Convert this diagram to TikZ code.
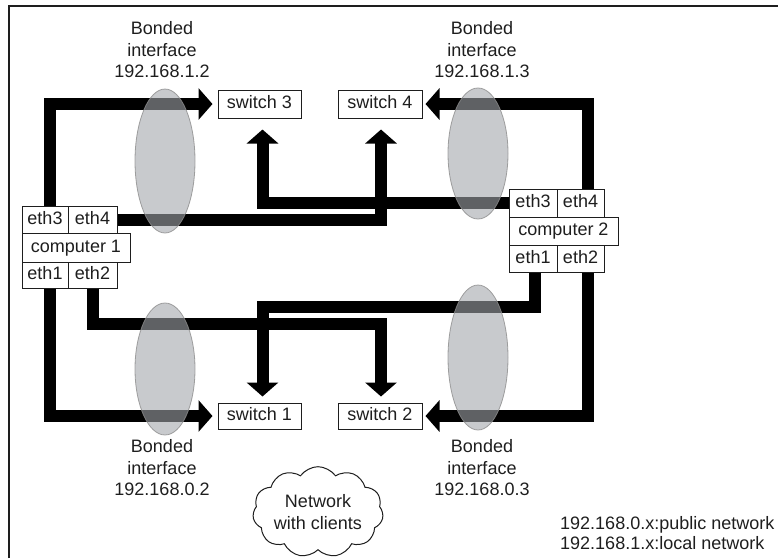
\documentclass[tikz,border=0pt]{standalone}
\usepackage{fontspec}
\setmainfont{Liberation Sans}
\usetikzlibrary{arrows.meta,shapes.geometric,shapes.symbols}
\definecolor{bondfill}{RGB}{162,165,170}
\definecolor{ink}{RGB}{30,30,30}
\begin{document}
\begin{tikzpicture}[x=1pt,y=-1pt,
  txt/.style={font=\fontsize{18}{21.5}\selectfont, text=ink},
  box/.style={draw=ink, line width=1pt, fill=white, inner sep=0pt, txt, text height=12.5pt, text depth=3pt},
  bigline/.style={line width=12pt, line join=miter, draw=black},
  bigarrow/.style={bigline, -{Triangle[width=31pt,length=14pt]}},
  bond/.style={ellipse, draw=black!45, draw opacity=0.8, line width=0.8pt, fill=bondfill, fill opacity=0.59, inner sep=0pt}]
\useasboundingbox (0,0) rectangle (778,558);
% frame
\draw[ink, line width=1.2pt] (9,558) -- (9,6) -- (778,6);
% switches
\node[box, minimum width=83pt, minimum height=28pt] (sw3) at (259.5,104) {switch 3};
\node[box, minimum width=84pt, minimum height=28pt] (sw4) at (380,104) {switch 4};
\node[box, minimum width=83pt, minimum height=26pt] (sw1) at (259.5,416) {switch 1};
\node[box, minimum width=84pt, minimum height=26pt] (sw2) at (380,416) {switch 2};
% computer 1
\node[box, minimum width=46pt, minimum height=27pt] (c1e3) at (45,219.5) {eth3};
\node[box, minimum width=49pt, minimum height=27pt] (c1e4) at (92.5,219.5) {eth4};
\node[box, minimum width=108pt, minimum height=29pt] (c1) at (76,247.5) {computer 1};
\node[box, minimum width=46pt, minimum height=26pt] (c1e1) at (45,275) {eth1};
\node[box, minimum width=49pt, minimum height=26pt] (c1e2) at (92.5,275) {eth2};
% computer 2
\node[box, minimum width=48pt, minimum height=28pt] (c2e3) at (533,203) {eth3};
\node[box, minimum width=47pt, minimum height=28pt] (c2e4) at (580.5,203) {eth4};
\node[box, minimum width=109pt, minimum height=28pt] (c2) at (563.5,231) {computer 2};
\node[box, minimum width=48pt, minimum height=27pt] (c2e1) at (533,258.5) {eth1};
\node[box, minimum width=47pt, minimum height=27pt] (c2e2) at (580.5,258.5) {eth2};
% connections
\draw[bigarrow] ([xshift=5pt]c1e3.north) |- ([xshift=-5pt]sw3.west);
\draw[bigarrow] ([xshift=7.5pt]c2e4.north) |- ([xshift=3pt]sw4.east);
\draw[bigarrow] (c2e3.west) -| ([xshift=3pt,yshift=-11pt]sw3.south);
\draw[bigarrow] (c1e4.east) -| ([xshift=1pt,yshift=-11pt]sw4.south);
\draw[bigarrow] ([xshift=5pt]c1e1.south) |- ([xshift=-5pt]sw1.west);
\draw[bigarrow] (c1e2.south) -- ++(0,35) -| ([xshift=1pt,yshift=6pt]sw2.north);
\draw[bigarrow] ([xshift=2pt]c2e1.south) -- ++(0,34) -| ([xshift=3pt,yshift=6pt]sw1.north);
\draw[bigarrow] ([xshift=7.5pt]c2e2.south) |- ([xshift=3pt]sw2.east);
% bonded interfaces
\node[bond, minimum width=60pt, minimum height=144pt] (bd1) at (165,161) {};
\node[bond, minimum width=60pt, minimum height=131pt] (bd2) at (478,153.5) {};
\node[bond, minimum width=60pt, minimum height=132pt] (bd3) at (165,369) {};
\node[bond, minimum width=60pt, minimum height=145pt] (bd4) at (478,357.5) {};
% labels
\node[txt, align=center] (lb1) at (162,50) {Bonded\\interface\\192.168.1.2};
\node[txt, align=center] (lb2) at (482,50) {Bonded\\interface\\192.168.1.3};
\node[txt, align=center] (lb3) at (162,468) {Bonded\\interface\\192.168.0.2};
\node[txt, align=center] (lb4) at (482,468) {Bonded\\interface\\192.168.0.3};
% cloud
\node[cloud, draw=ink, line width=1pt, cloud puffs=11, cloud puff arc=110, aspect=1.65,
      minimum width=127pt, minimum height=77pt, inner sep=0pt, txt, align=center] (net) at (318,512) {Network\\with clients};
% legend
\node[font=\fontsize{18}{20}\selectfont, text=ink, align=left, anchor=west, inner sep=0pt] (leg) at (560,533) {192.168.0.x:public network\\192.168.1.x:local network};
\end{tikzpicture}
\end{document}
